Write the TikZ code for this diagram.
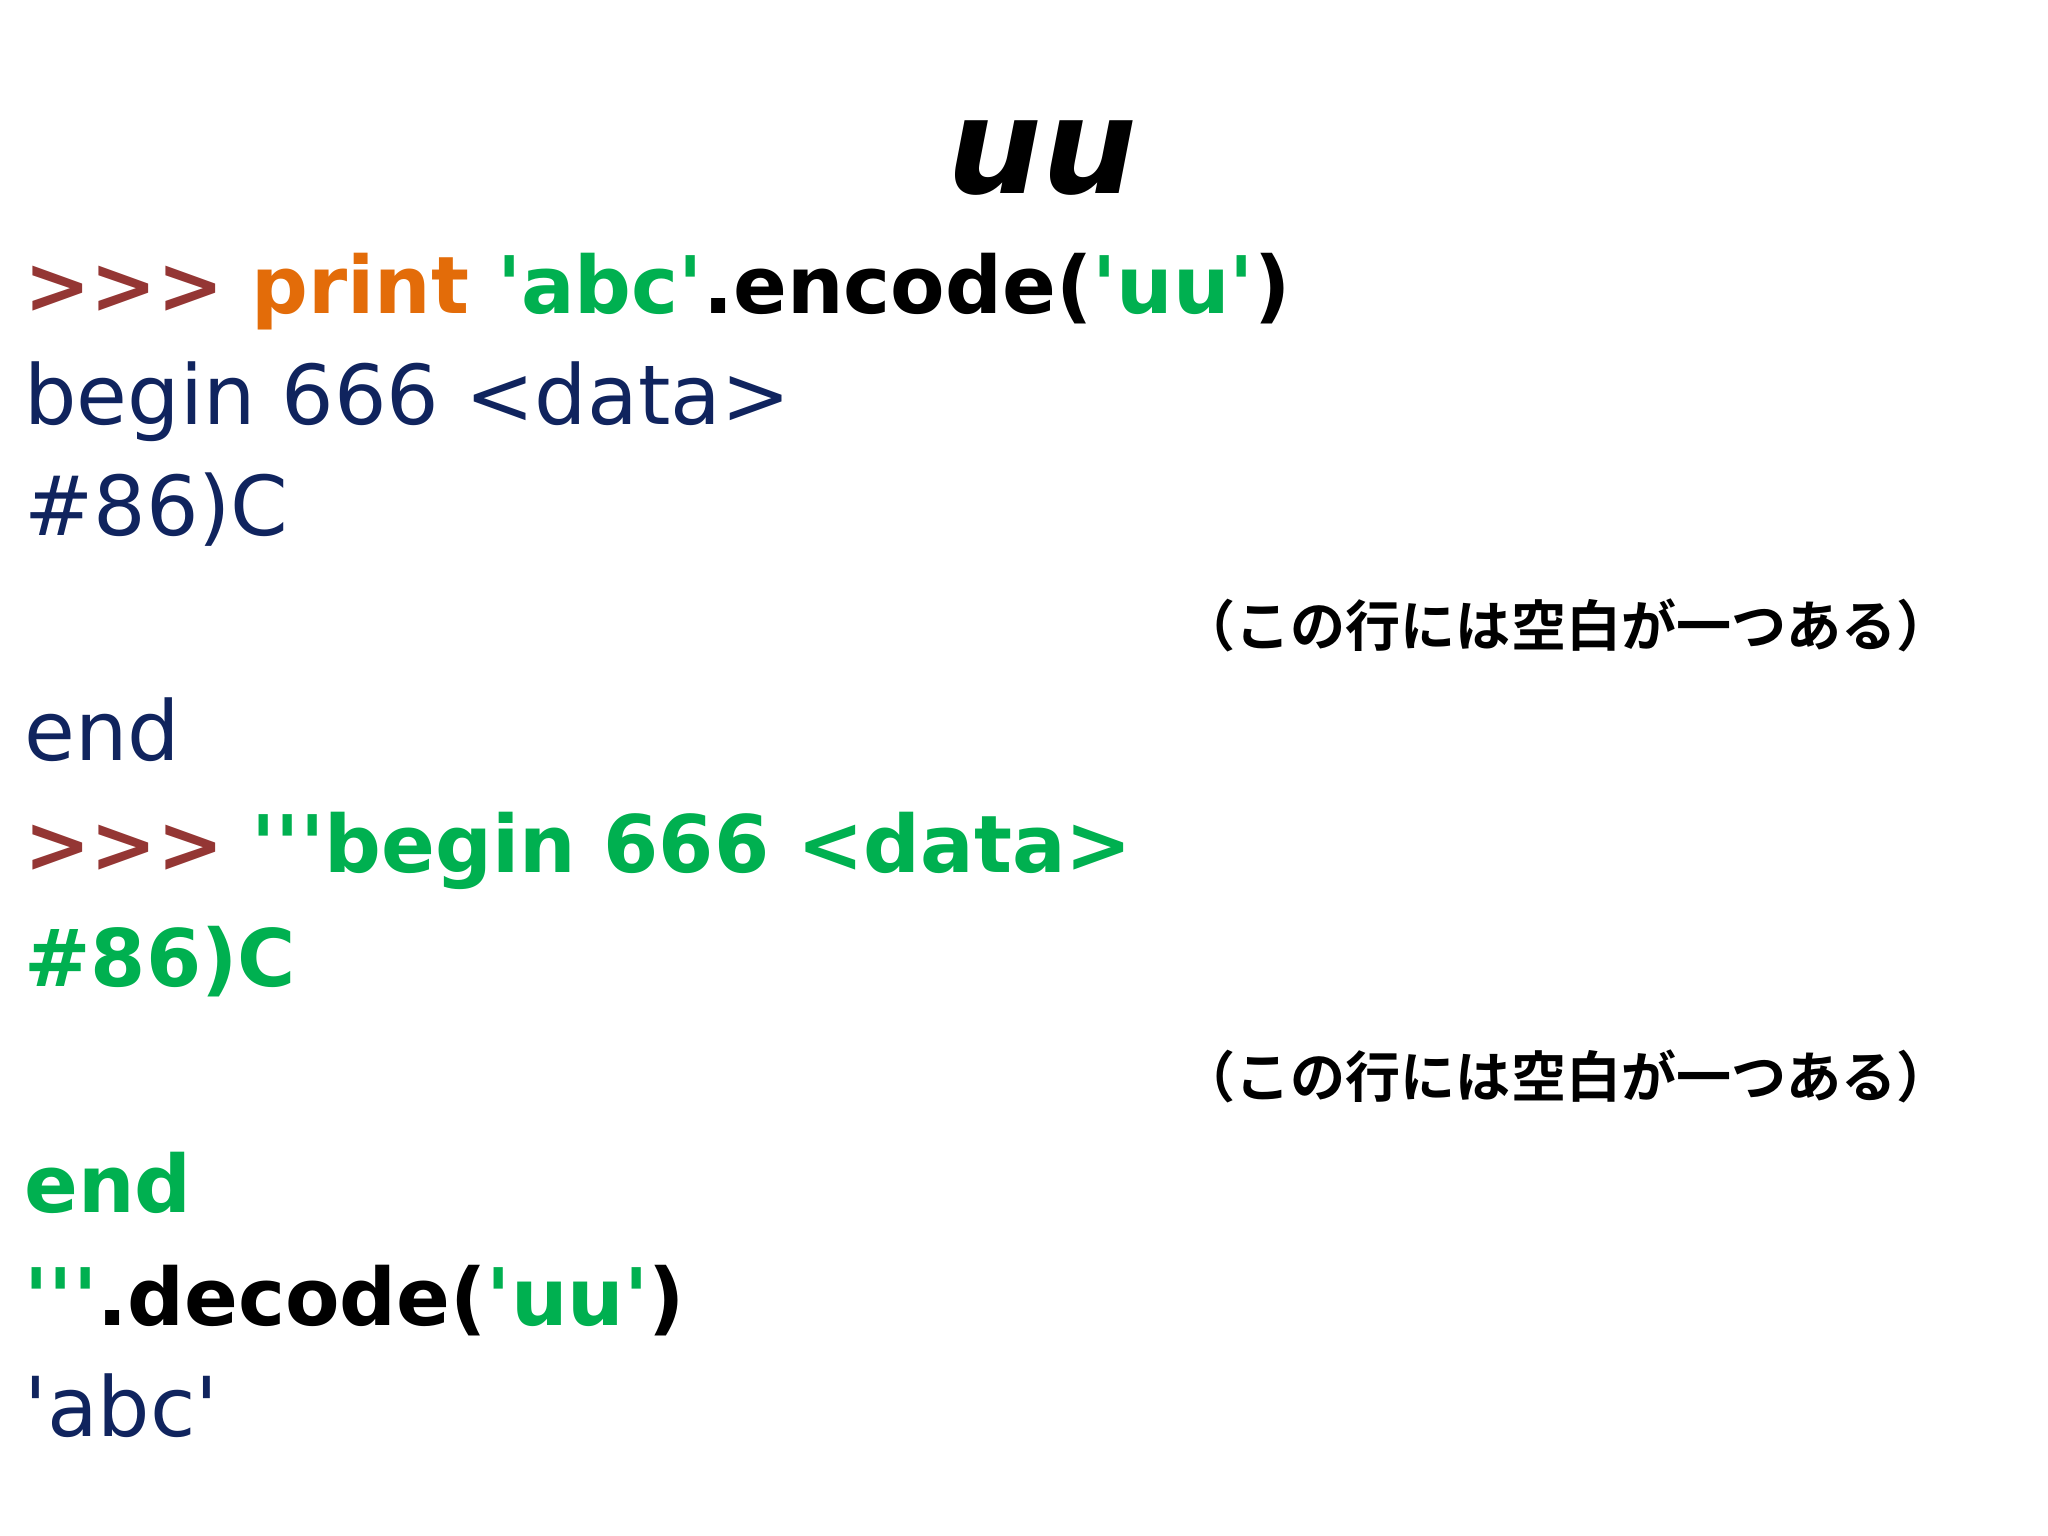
\documentclass[tikz,border=0pt]{standalone}
\usepackage{fontspec}
\setmainfont{DejaVu Sans}[Ligatures=TeXOff]
\newfontfamily\jpfont{Noto Sans CJK JP}[BoldFont={* Bold}]
\definecolor{prompt}{HTML}{943634}
\definecolor{kwd}{HTML}{E36C09}
\definecolor{strg}{HTML}{00B050}
\definecolor{outp}{HTML}{10245E}
\tikzset{
  code/.style={anchor=base west, inner sep=0pt, font=\fontsize{18}{21}\selectfont, text=outp},
  codebf/.style={code, font=\fontsize{17.3}{20}\selectfont\bfseries, text=black},
  note/.style={anchor=base east, inner sep=0pt, font=\jpfont\fontsize{12}{14}\selectfont\bfseries}
}
\begin{document}
\begin{tikzpicture}

\useasboundingbox (0,0) rectangle (15.68,11.76);

% title
\node[anchor=base, inner sep=0pt, font=\fontsize{29}{33}\selectfont\bfseries\itshape] (title) at (7.98,10.28) {uu};

% first session
\node[codebf] (cmd1) at (0.18,9.36) {\textcolor{prompt}{>>>} \textcolor{kwd}{print} \textcolor{strg}{'abc'}.encode(\textcolor{strg}{'uu'})};
\node[code] (out1) at (0.18,8.51) {begin 666 <data>};
\node[code] (out2) at (0.18,7.66) {\#86)C};
\node[note] (note1) at (14.95,6.81) {（この行には空白が一つある）};
\node[code] (out3) at (0.18,5.94) {end};

% second session
\node[codebf, text=strg] (cmd2) at (0.18,5.08) {\textcolor{prompt}{>>>} '''begin 666 <data>};
\node[codebf, text=strg] (cmd3) at (0.18,4.21) {\#86)C};
\node[note] (note2) at (14.95,3.36) {（この行には空白が一つある）};
\node[codebf, text=strg] (cmd4) at (0.18,2.48) {end};
\node[codebf] (cmd5) at (0.18,1.61) {\textcolor{strg}{'''}.decode(\textcolor{strg}{'uu'})};
\node[code] (out4) at (0.18,0.76) {'abc'};
\end{tikzpicture}
\end{document}
